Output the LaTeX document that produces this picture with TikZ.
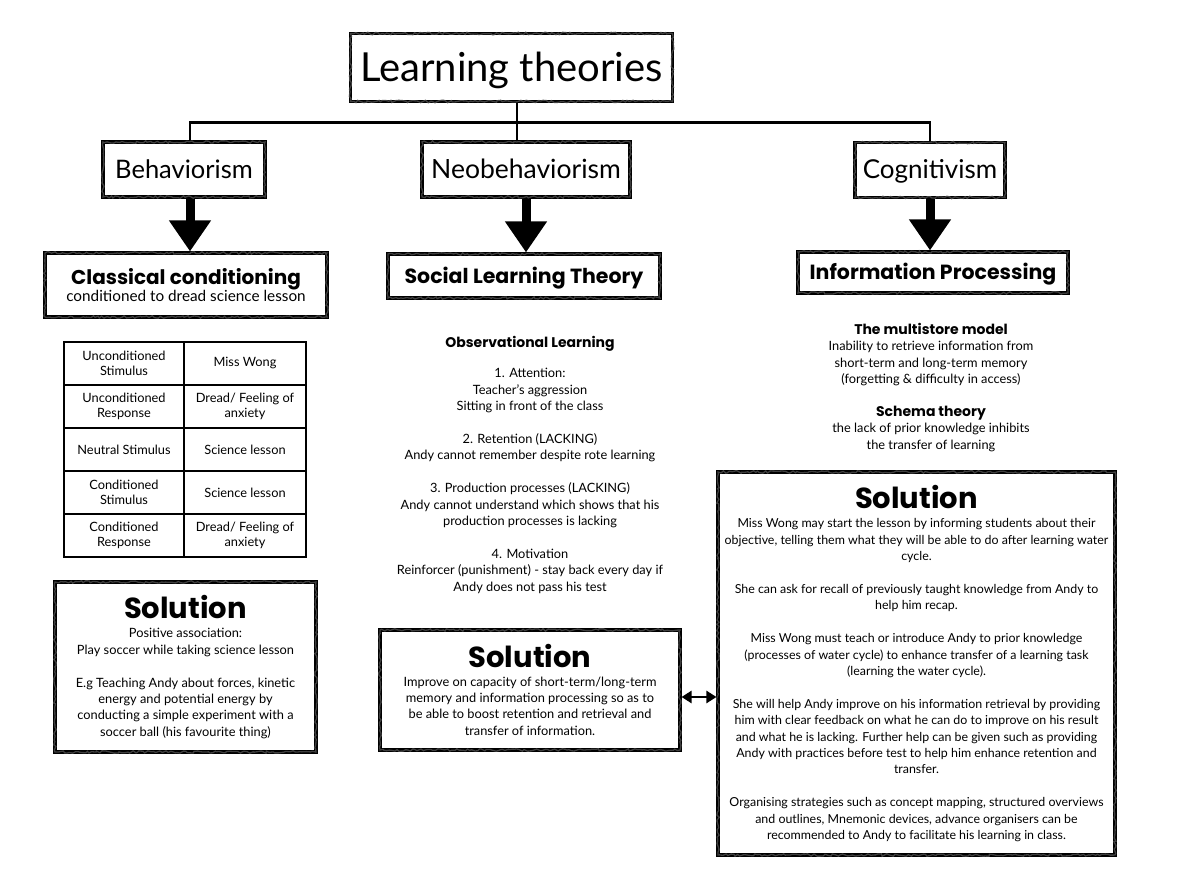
\documentclass[tikz,border=0pt]{standalone}
\usepackage{fontspec}
\setmainfont{Lato}
\newfontfamily\heavy{Poppins}
\usetikzlibrary{arrows.meta,decorations.pathmorphing}
\newcommand{\bodyfont}{\fontsize{12.8}{16.4}\selectfont}
\newcommand{\hb}[1]{{\fontsize{14}{16.4}\selectfont\heavy\bfseries #1}}
\newcommand{\solhead}{{\fontsize{29}{30}\selectfont\heavy\bfseries Solution}}
\begin{document}
\begin{tikzpicture}[x=1pt,y=-1pt,
  sketch/.style={draw, line width=3.1pt, fill=white, align=center, inner sep=0pt,
    postaction={draw, line width=1.3pt, black!75, decorate,
      decoration={random steps, segment length=2.5pt, amplitude=1.2pt}}},
  cat/.style={sketch, minimum height=55pt, text height=18pt, text depth=0pt},
  sub/.style={sketch, font=\fontsize{20.5}{22}\selectfont\heavy\bfseries, text height=14.5pt, text depth=0pt},
  body/.style={align=center, inner sep=0pt, font=\bodyfont},
  cell/.style={draw, line width=1.4pt, align=center, inner sep=0pt,
    minimum height=43pt, font=\fontsize{12.8}{15.5}\selectfont},
  treeline/.style={line width=2.8pt},
  bigarrow/.style={line width=9pt, -{Triangle[width=40pt,length=31pt]}},
  dblarrow/.style={line width=2.6pt, {Triangle[width=12pt,length=10pt]}-{Triangle[width=12pt,length=10pt]}}
]
\useasboundingbox[fill=white] (0,0) rectangle (1179,882);

% title and categories
\node[sketch, font=\fontsize{40}{44}\selectfont, minimum width=322pt, minimum height=68pt, text height=29pt, text depth=0pt] (title) at (511.5,67.5) {Learning theories};
\node[cat, font=\fontsize{25.5}{28}\selectfont, minimum width=162pt] (beh) at (184,169.5) {Behaviorism};
\node[cat, font=\fontsize{26.5}{28}\selectfont, minimum width=208pt] (neo) at (526,169.5) {Neobehaviorism};
\node[cat, font=\fontsize{26}{28}\selectfont, minimum width=150pt] (cog) at (930,170) {Cognitivism};

\coordinate (j) at (517,122.5);
\draw[treeline] (title.south -| j) -- (j);
\draw[treeline] ([xshift=6pt]beh.north) -- ([xshift=6pt]beh.north |- j) -- (cog.north |- j) -- (cog.north);
\draw[treeline] (j) -- (j |- neo.north);

% theory boxes
\node[sketch, minimum width=282pt, minimum height=64pt] (cc) at (186,285)
  {{\fontsize{20}{22}\selectfont\heavy\bfseries Classical conditioning}\\[-1pt]{\fontsize{15.3}{17}\selectfont conditioned to dread science lesson}};
\node[sub, minimum width=272pt, minimum height=44pt] (slt) at (524,276) {Social Learning Theory};
\node[sub, minimum width=270pt, minimum height=41pt] (ip) at (933,272.5) {Information Processing};

\draw[bigarrow] ([xshift=6pt]beh.south) -- ([xshift=6pt]beh.south |- cc.north);
\draw[bigarrow] (neo.south) -- (neo.south |- slt.north);
\draw[bigarrow] (cog.south) -- (cog.south |- ip.north);

% table
\node[cell, minimum width=120pt] (a1) at (124,363.5) {Unconditioned\\Stimulus};
\node[cell, minimum width=122pt] (b1) at (245,363.5) {Miss Wong};
\node[cell, minimum width=120pt] (a2) at (124,406.5) {Unconditioned\\Response};
\node[cell, minimum width=122pt] (b2) at (245,406.5) {Dread/ Feeling of\\anxiety};
\node[cell, minimum width=120pt] (a3) at (124,449.5) {Neutral Stimulus};
\node[cell, minimum width=122pt] (b3) at (245,449.5) {Science lesson};
\node[cell, minimum width=120pt] (a4) at (124,492.5) {Conditioned\\Stimulus};
\node[cell, minimum width=122pt] (b4) at (245,492.5) {Science lesson};
\node[cell, minimum width=120pt] (a5) at (124,535.5) {Conditioned\\Response};
\node[cell, minimum width=122pt] (b5) at (245,535.5) {Dread/ Feeling of\\anxiety};

% observational learning text
\node[body, anchor=north] (obs) at (530,336) {\hb{Observational Learning}\\[14pt]
1. Attention:\\Teacher's aggression\\Sitting in front of the class\\[16.4pt]
2. Retention (LACKING)\\Andy cannot remember despite rote learning\\[16.4pt]
3. Production processes (LACKING)\\Andy cannot understand which shows that his\\production processes is lacking\\[16.4pt]
4. Motivation\\Reinforcer (punishment) - stay back every day if\\Andy does not pass his test};

% information processing text
\node[body, anchor=north] (ms) at (931,323) {\hb{The multistore model}\\
Inability to retrieve information from\\short-term and long-term memory\\(forgetting \& difficulty in access)\\[16.4pt]
\hb{Schema theory}\\the lack of prior knowledge inhibits\\the transfer of learning};

% solutions
\node[sketch, font=\bodyfont, minimum width=261pt, minimum height=170pt] (sol1) at (185.5,667)
  {\solhead\\[3pt]Positive association:\\Play soccer while taking science lesson\\[16.4pt]
  E.g Teaching Andy about forces, kinetic\\energy and potential energy by\\conducting a simple experiment with a\\soccer ball (his favourite thing)};

\node[sketch, font=\bodyfont, minimum width=300pt, minimum height=120pt] (sol2) at (530,690)
  {\solhead\\[2pt]Improve on capacity of short-term/long-term\\memory and information processing so as to\\be able to boost retention and retrieval and\\transfer of information.};

\node[sketch, font=\fontsize{12.4}{16.4}\selectfont, minimum width=397pt, minimum height=383pt] (sol3) at (916.5,663.5)
  {\solhead\\[3pt]Miss Wong may start the lesson by informing students about their\\objective, telling them what they will be able to do after learning water\\cycle.\\[16.4pt]
  She can ask for recall of previously taught knowledge from Andy to\\help him recap.\\[16.4pt]
  Miss Wong must teach or introduce Andy to prior knowledge\\(processes of water cycle) to enhance transfer of a learning task\\(learning the water cycle).\\[16.4pt]
  She will help Andy improve on his information retrieval by providing\\him with clear feedback on what he can do to improve on his result\\and what he is lacking. Further help can be given such as providing\\Andy with practices before test to help him enhance retention and\\transfer.\\[16.4pt]
  Organising strategies such as concept mapping, structured overviews\\and outlines, Mnemonic devices, advance organisers can be\\recommended to Andy to facilitate his learning in class.};

\draw[dblarrow] ([yshift=-7pt]sol2.east) -- ([yshift=-7pt]sol2.east -| sol3.west);
\end{tikzpicture}
\end{document}
